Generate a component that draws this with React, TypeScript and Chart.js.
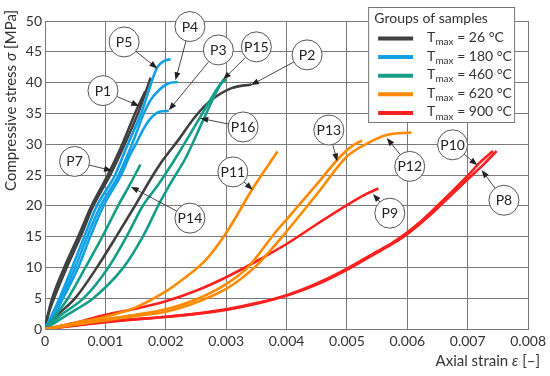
import React, { useEffect, useRef } from "react";
import { Chart, registerables } from "chart.js";
Chart.register(...registerables);

const FONT = "Lato, 'Open Sans', sans-serif";

// ---- axes ----
const xTickLabels = ["0", "0.001", "0.002", "0.003", "0.004", "0.005", "0.006", "0.007", "0.008"];
const yTickLabels = ["0", "5", "10", "15", "20", "25", "30", "35", "40", "45", "50"];

// ---- groups ----
const groupTemps = [26, 180, 460, 620, 900];
const groupColors = ["#404040", "#12a0e6", "#149e8a", "#ff8a00", "#ff2020"];

// ---- samples (strain [-], stress [MPa]) ----
const P1_strain = [0, 0.00005, 0.00015, 0.00036, 0.00059, 0.0008, 0.00108, 0.00132, 0.00154, 0.00175];
const P1_stress = [0, 2.2, 5, 10, 15, 20, 25, 30, 35, 40.8];
const P7_strain = [0, 0.00004, 0.00012, 0.00032, 0.00055, 0.00077, 0.00104, 0.00128, 0.00149, 0.00166];
const P7_stress = [0, 2, 5, 10, 15, 20, 25, 30, 35, 38.6];
const P2_strain = [0, 0.0002, 0.0005, 0.00086, 0.00118, 0.00149, 0.00179, 0.00195, 0.00221, 0.00249, 0.00276, 0.00309, 0.00342];
const P2_stress = [0, 2.2, 5, 10, 15, 20, 25, 27.4, 30.7, 34.5, 37.2, 39.1, 39.7];

const P5_strain = [0, 0.0001, 0.00024, 0.00045, 0.00065, 0.00086, 0.00116, 0.00133, 0.00147, 0.0016, 0.00172, 0.00186, 0.00197, 0.00208];
const P5_stress = [0, 2, 5, 10, 15, 20, 25, 29, 32.2, 35.2, 38.8, 42.5, 43.5, 43.8];
const P4_strain = [0, 0.00012, 0.00027, 0.0005, 0.0007, 0.00092, 0.00122, 0.0014, 0.00152, 0.00162, 0.00175, 0.00189, 0.00205, 0.0022];
const P4_stress = [0, 2, 5, 10, 15, 20, 25, 29, 32, 34.6, 37.2, 38.8, 39.9, 40.1];
const P3_strain = [0, 0.00014, 0.0003, 0.00055, 0.00075, 0.00097, 0.00126, 0.00142, 0.00152, 0.00162, 0.00175, 0.00191, 0.00205];
const P3_stress = [0, 2, 5, 10, 15, 20, 25, 28.5, 30.3, 32.3, 34.2, 35.3, 35.4];

const P14_strain = [0, 0.0002, 0.00038, 0.00067, 0.00095, 0.00121, 0.00138, 0.00149, 0.00158];
const P14_stress = [0, 2.5, 5, 10, 15, 20, 23, 25, 26.7];
const P15_strain = [0, 0.0003, 0.00064, 0.00105, 0.00135, 0.00162, 0.00188, 0.00221, 0.00254, 0.00287, 0.00297];
const P15_stress = [0, 2.5, 5, 10, 15, 20, 23.5, 28.5, 33.9, 39.3, 40.6];
const P16_strain = [0, 0.0004, 0.0008, 0.0013, 0.00162, 0.0019, 0.0021, 0.00232, 0.00262, 0.00292, 0.003];
const P16_stress = [0, 2.5, 5, 10, 15, 20.5, 24, 27.6, 33.9, 39.9, 40.5];

const P11_strain = [0, 0.0005, 0.001, 0.0015, 0.002, 0.0023, 0.00266, 0.003, 0.00344, 0.00385];
const P11_stress = [0, 1, 2, 3.5, 6.1, 8.2, 11.2, 15.6, 22.8, 28.8];
const P13_strain = [0, 0.0005, 0.001, 0.0015, 0.002, 0.0025, 0.003, 0.00336, 0.0038, 0.00402, 0.00451, 0.00489, 0.0051, 0.00525];
const P13_stress = [0, 0.8, 1.6, 2.3, 3.2, 4.8, 7.3, 10, 15.5, 18, 23.6, 28, 29.8, 30.6];
const P12_strain = [0, 0.0005, 0.001, 0.0015, 0.002, 0.0025, 0.003, 0.00347, 0.00393, 0.00451, 0.005, 0.00533, 0.00566, 0.00607];
const P12_stress = [0, 0.7, 1.4, 2.1, 2.8, 4.3, 6.5, 10, 15, 22, 28, 30.1, 31.5, 31.9];

const P9_strain = [0, 0.0005, 0.001, 0.0015, 0.002, 0.0025, 0.003, 0.0035, 0.004, 0.0045, 0.005, 0.0053, 0.00552];
const P9_stress = [0, 1.0, 2.3, 3.3, 4.5, 6.2, 8.4, 11, 13.8, 17, 20.1, 21.8, 22.8];
const P10_strain = [0, 0.0005, 0.001, 0.0015, 0.002, 0.0025, 0.003, 0.0035, 0.004, 0.0045, 0.005, 0.0055, 0.00575, 0.006, 0.00625, 0.0065, 0.007, 0.0072, 0.00742];
const P10_stress = [0, 0.6, 1.2, 1.6, 2.0, 2.5, 3.2, 4.2, 5.5, 7.4, 9.8, 12.6, 14.0, 15.7, 17.7, 20, 24.9, 27, 28.9];
const P8_strain = [0, 0.0005, 0.001, 0.0015, 0.002, 0.0025, 0.003, 0.0035, 0.004, 0.0045, 0.005, 0.0055, 0.00575, 0.006, 0.00625, 0.0065, 0.007, 0.00725, 0.00748];
const P8_stress = [0, 0.55, 1.1, 1.55, 1.95, 2.45, 3.1, 4.1, 5.4, 7.2, 9.6, 12.4, 13.8, 15.4, 17.4, 19.6, 24.3, 26.6, 28.9];

const samples = [
  { name: "P12", group: 3, strain: P12_strain, stress: P12_stress },
  { name: "P13", group: 3, strain: P13_strain, stress: P13_stress },
  { name: "P11", group: 3, strain: P11_strain, stress: P11_stress },
  { name: "P8", group: 4, strain: P8_strain, stress: P8_stress },
  { name: "P10", group: 4, strain: P10_strain, stress: P10_stress },
  { name: "P9", group: 4, strain: P9_strain, stress: P9_stress },
  { name: "P14", group: 2, strain: P14_strain, stress: P14_stress },
  { name: "P15", group: 2, strain: P15_strain, stress: P15_stress },
  { name: "P16", group: 2, strain: P16_strain, stress: P16_stress },
  { name: "P2", group: 0, strain: P2_strain, stress: P2_stress },
  { name: "P5", group: 1, strain: P5_strain, stress: P5_stress },
  { name: "P4", group: 1, strain: P4_strain, stress: P4_stress },
  { name: "P3", group: 1, strain: P3_strain, stress: P3_stress },
  { name: "P7", group: 0, strain: P7_strain, stress: P7_stress },
  { name: "P1", group: 0, strain: P1_strain, stress: P1_stress },
];

// ---- callouts (circle centre and arrow tip, in data units) ----
const calloutNames = ["P5", "P4", "P3", "P15", "P2", "P1", "P16", "P7", "P14", "P11", "P13", "P12", "P9", "P10", "P8"];
const calloutX = [0.00131, 0.0024, 0.00287, 0.0035, 0.00434, 0.00096, 0.00328, 0.00049, 0.0024, 0.00311, 0.0047, 0.00604, 0.00571, 0.00675, 0.0076];
const calloutY = [46.6, 49.1, 45.3, 45.8, 44.5, 38.7, 32.8, 27.2, 18.0, 25.5, 32.3, 26.4, 18.8, 29.9, 20.9];
const arrowX = [0.00186, 0.00216, 0.00205, 0.00295, 0.00341, 0.00156, 0.00257, 0.00111, 0.00142, 0.00344, 0.00484, 0.00566, 0.00543, 0.00716, 0.00723];
const arrowY = [42.3, 40.4, 35.5, 40.5, 39.6, 36.2, 34.2, 25.7, 23.1, 22.6, 27.2, 31.0, 21.9, 26.6, 25.8];

function drawRich(ctx: CanvasRenderingContext2D, parts: { t: string; f: string; dy?: number }[], x: number, y: number, align: "left" | "right") {
  let total = 0;
  const widths = parts.map((p) => {
    ctx.font = p.f;
    const w = ctx.measureText(p.t).width;
    total += w;
    return w;
  });
  let cx = align === "right" ? x - total : x;
  ctx.textAlign = "left";
  parts.forEach((p, i) => {
    ctx.font = p.f;
    ctx.fillText(p.t, cx, y + (p.dy || 0));
    cx += widths[i];
  });
}

const overlayPlugin = {
  id: "overlay",
  afterDatasetsDraw(chart: any) {
    const { ctx, scales } = chart;
    const xs = scales.x;
    const ys = scales.y;
    const R = 15;
    ctx.save();
    calloutNames.forEach((name, i) => {
      const cx = xs.getPixelForValue(calloutX[i]);
      const cy = ys.getPixelForValue(calloutY[i]);
      const tx = xs.getPixelForValue(arrowX[i]);
      const ty = ys.getPixelForValue(arrowY[i]);
      const dx = tx - cx;
      const dy = ty - cy;
      const d = Math.hypot(dx, dy) || 1;
      const ux = dx / d;
      const uy = dy / d;
      ctx.strokeStyle = "#333";
      ctx.fillStyle = "#222";
      ctx.lineWidth = 0.9;
      ctx.beginPath();
      ctx.moveTo(cx + ux * R, cy + uy * R);
      ctx.lineTo(tx - ux * 6, ty - uy * 6);
      ctx.stroke();
      ctx.beginPath();
      ctx.moveTo(tx, ty);
      ctx.lineTo(tx - ux * 8 - uy * 3, ty - uy * 8 + ux * 3);
      ctx.lineTo(tx - ux * 8 + uy * 3, ty - uy * 8 - ux * 3);
      ctx.closePath();
      ctx.fill();
      ctx.beginPath();
      ctx.arc(cx, cy, R, 0, Math.PI * 2);
      ctx.fillStyle = "#fff";
      ctx.fill();
      ctx.strokeStyle = "#555";
      ctx.lineWidth = 1;
      ctx.stroke();
      ctx.fillStyle = "#222";
      ctx.font = `14px ${FONT}`;
      ctx.textAlign = "center";
      ctx.textBaseline = "middle";
      ctx.fillText(name, cx, cy + 0.5);
    });
    ctx.restore();
  },
  afterDraw(chart: any) {
    const { ctx, chartArea } = chart;
    ctx.save();
    ctx.fillStyle = "#333";
    ctx.textBaseline = "middle";
    // y axis title
    ctx.save();
    ctx.translate(chartArea.left - 34, chartArea.top - 11);
    ctx.rotate(-Math.PI / 2);
    drawRich(
      ctx,
      [
        { t: "Compressive stress ", f: `15px ${FONT}` },
        { t: "σ", f: `italic 15px ${FONT}` },
        { t: " [MPa]", f: `15px ${FONT}` },
      ],
      0,
      0,
      "right"
    );
    ctx.restore();
    // x axis title
    drawRich(
      ctx,
      [
        { t: "Axial strain ", f: `15px ${FONT}` },
        { t: "ε", f: `italic 15px ${FONT}` },
        { t: " [–]", f: `15px ${FONT}` },
      ],
      chartArea.right + 12,
      chartArea.bottom + 32,
      "right"
    );
    // legend
    const L = chartArea.right - 160;
    const T = chartArea.top - 14;
    const W = 146;
    const H = 115;
    ctx.fillStyle = "#fff";
    ctx.fillRect(L, T, W, H);
    ctx.strokeStyle = "#777";
    ctx.lineWidth = 1;
    ctx.strokeRect(L + 0.5, T + 0.5, W, H);
    ctx.fillStyle = "#333";
    ctx.font = `14px ${FONT}`;
    ctx.textAlign = "center";
    ctx.fillText("Groups of samples", L + 63, T + 11.5);
    groupTemps.forEach((t, i) => {
      const yy = T + 31.5 + i * 18.6;
      ctx.strokeStyle = groupColors[i];
      ctx.lineWidth = 4;
      ctx.beginPath();
      ctx.moveTo(L + 10, yy);
      ctx.lineTo(L + 45, yy);
      ctx.stroke();
      ctx.fillStyle = "#333";
      drawRich(
        ctx,
        [
          { t: "T", f: `14px ${FONT}` },
          { t: "max", f: `10px ${FONT}`, dy: 4.5 },
          { t: ` = ${t} °C`, f: `14px ${FONT}` },
        ],
        L + 59,
        yy - 1,
        "left"
      );
    });
    ctx.restore();
  },
};

export default function App() {
  const ref = useRef<HTMLCanvasElement>(null);
  useEffect(() => {
    document.body.style.margin = "0";
    const canvas = ref.current!;
    const datasets = samples.map((s) => ({
      label: s.name,
      data: s.strain.map((v, i) => ({ x: v, y: s.stress[i] })),
      borderColor: groupColors[s.group],
      backgroundColor: groupColors[s.group],
      borderWidth: 2.6,
      pointRadius: 0,
      showLine: true,
      fill: false,
      cubicInterpolationMode: "monotone" as const,
    }));
    const chart = new Chart(canvas, {
      type: "scatter",
      data: { datasets },
      options: {
        animation: false,
        responsive: false,
        devicePixelRatio: 1,
        layout: { padding: { left: 0, right: 17, top: 21, bottom: 0 } },
        plugins: { legend: { display: false }, tooltip: { enabled: false } },
        scales: {
          x: {
            type: "linear",
            min: 0,
            max: 0.008,
            ticks: {
              stepSize: 0.001,
              padding: 4,
              color: "#333",
              font: { family: FONT, size: 14 },
              maxRotation: 0,
              callback: (_v: any, i: number) => xTickLabels[i],
            },
            grid: { color: "#7a7a7a", lineWidth: 1, drawTicks: false },
            border: { color: "#7a7a7a" },
            afterFit: (s: any) => {
              s.height = 47;
            },
          },
          y: {
            type: "linear",
            min: 0,
            max: 50,
            ticks: {
              stepSize: 5,
              padding: 3,
              color: "#333",
              font: { family: FONT, size: 14 },
              callback: (_v: any, i: number) => yTickLabels[i],
            },
            grid: { color: "#7a7a7a", lineWidth: 1, drawTicks: false },
            border: { color: "#7a7a7a" },
            afterFit: (s: any) => {
              s.width = 45;
            },
          },
        },
      },
      plugins: [overlayPlugin],
    });
    return () => chart.destroy();
  }, []);
  return (
    <div style={{ position: "absolute", left: 0, top: 0, width: 550, height: 376 }}>
      <canvas ref={ref} width={550} height={376} style={{ display: "block" }} />
    </div>
  );
}
